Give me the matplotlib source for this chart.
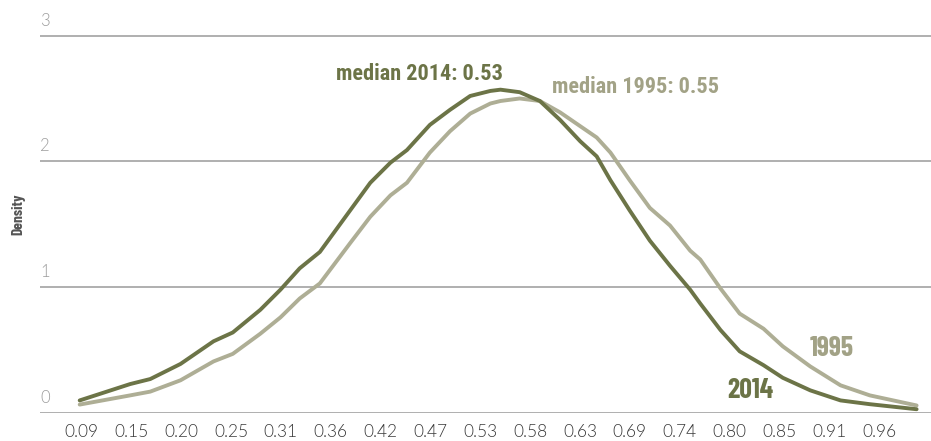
import numpy as np
import matplotlib
matplotlib.use("Agg")
import matplotlib.pyplot as plt

# colours
DARK = '#6c7447'
LIGHT = '#aeae95'
LIGHT_TEXT = '#a2a286'
GRID = '#9a9a9a'

# x grid of the density estimates, same for both years
x_vals = [0.088, 0.143, 0.165, 0.198, 0.234, 0.255, 0.285, 0.307, 0.328, 0.350,
          0.383, 0.405, 0.427, 0.445, 0.470, 0.492, 0.514, 0.536, 0.547, 0.568,
          0.590, 0.612, 0.634, 0.652, 0.667, 0.688, 0.710, 0.732, 0.754, 0.765,
          0.787, 0.808, 0.834, 0.855, 0.885, 0.918, 0.950, 1.001]

dens_2014 = [0.10, 0.23, 0.27, 0.39, 0.57, 0.64, 0.82, 0.98, 1.15, 1.28,
             1.61, 1.83, 1.99, 2.09, 2.29, 2.41, 2.52, 2.56, 2.57, 2.55,
             2.48, 2.33, 2.16, 2.04, 1.85, 1.61, 1.37, 1.17, 0.98, 0.87,
             0.66, 0.49, 0.38, 0.28, 0.18, 0.10, 0.07, 0.03]

dens_1995 = [0.067, 0.14, 0.17, 0.26, 0.41, 0.47, 0.63, 0.76, 0.91, 1.03,
             1.35, 1.56, 1.73, 1.83, 2.07, 2.24, 2.38, 2.46, 2.48, 2.50,
             2.48, 2.39, 2.28, 2.19, 2.07, 1.85, 1.63, 1.49, 1.29, 1.22,
             0.99, 0.79, 0.67, 0.53, 0.37, 0.22, 0.14, 0.06]

x_tick_labels = ['0.09', '0.15', '0.20', '0.25', '0.31', '0.36', '0.42', '0.47',
                 '0.53', '0.58', '0.63', '0.69', '0.74', '0.80', '0.85', '0.91', '0.96']
y_ticks = [0, 1, 2, 3]

median_2014 = 0.53
median_1995 = 0.55

NUM_FONT = ['Lato', 'DejaVu Sans']
LABEL_FONT = ['Barlow Condensed', 'Roboto Condensed', 'DejaVu Sans']
MEDIAN_FONT = ['Roboto Condensed', 'DejaVu Sans']

fig = plt.figure(figsize=(9.31, 4.41), dpi=100)
ax = fig.add_axes([40 / 931, 28 / 441, 891 / 931, 390 / 441])

ax.set_xlim(0.0447, 1.0167)
ax.set_ylim(0, 3.1)

for y in y_ticks:
    ax.axhline(y, color=GRID, lw=1.1, zorder=1)
    ax.annotate(str(y), xy=(0, y), xycoords=('axes fraction', 'data'),
                xytext=(0, 5), textcoords='offset points', ha='left', va='bottom',
                fontsize=12, color='#9c9c9c', family=NUM_FONT, fontweight=300)

ax.plot(x_vals, dens_1995, color=LIGHT, lw=2.8, solid_joinstyle='round',
        solid_capstyle='round', zorder=3)
ax.plot(x_vals, dens_2014, color=DARK, lw=2.8, solid_joinstyle='round',
        solid_capstyle='round', zorder=4)

# x ticks: equally spaced bins
ax.set_xticks(np.linspace(0.09, 0.96, len(x_tick_labels)))
ax.set_xticklabels(x_tick_labels, family=NUM_FONT, fontweight=300,
                   fontsize=12.5, color='#3a3a3a')
ax.tick_params(axis='x', length=0, pad=8)
ax.set_yticks([])
for s in ax.spines.values():
    s.set_visible(False)

fig.text(18 / 931, 1 - 214 / 441, 'Density', rotation=90, ha='center', va='center',
         fontsize=11, fontweight=700, color='#555555', family=LABEL_FONT)

ax.text(0.3676, 2.643, f'median 2014: {median_2014:.2f}', color=DARK, fontsize=16,
        fontweight=700, family=MEDIAN_FONT, va='baseline', ha='left')
ax.text(0.6027, 2.546, f'median 1995: {median_1995:.2f}', color=LIGHT_TEXT, fontsize=16,
        fontweight=700, family=MEDIAN_FONT, va='baseline', ha='left')
ax.text(0.8847, 0.453, '1995', color=LIGHT_TEXT, fontsize=20,
        fontweight=700, family=LABEL_FONT, va='baseline', ha='left')
ax.text(0.7942, 0.122, '2014', color=DARK, fontsize=20,
        fontweight=700, family=LABEL_FONT, va='baseline', ha='left')

fig.savefig('out.png', dpi=100)
